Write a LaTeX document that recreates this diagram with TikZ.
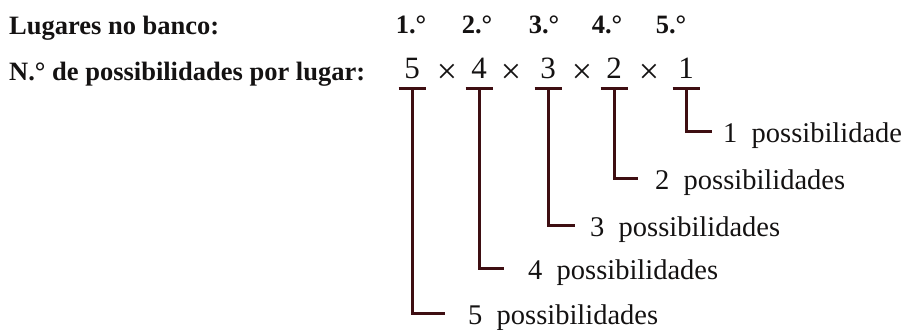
\documentclass[tikz,border=0pt]{standalone}
\usepackage{fontspec}
\setmainfont{Liberation Serif}
\usepackage{xcolor}
\usepackage{tikz}
\usetikzlibrary{positioning, calc}
\definecolor{BancoBar}{RGB}{62, 14, 18}
\definecolor{BancoInk}{RGB}{20, 18, 18}

\tikzset{
  headtext/.style={anchor=base west, inner sep=0pt, text=BancoInk, font=\fontsize{26.5}{30}\selectfont\bfseries},
  placetext/.style={anchor=base, inner sep=0pt, text=BancoInk, font=\fontsize{26.5}{30}\selectfont\bfseries},
  factor/.style={anchor=base, inner sep=0pt, text=BancoInk, font=\fontsize{31}{36}\selectfont},
  vezestext/.style={anchor=base, inner sep=0pt, text=BancoInk, font=\fontsize{36}{40}\selectfont},
  counttext/.style={anchor=base west, inner sep=0pt, text=BancoInk, font=\fontsize{28.5}{34}\selectfont},
  bar/.style={BancoBar, line width=3pt},
}

\begin{document}
\begin{tikzpicture}[x=1pt,y=1pt]
  \path[use as bounding box] (0,0) rectangle (904,-329);
  \node[headtext] (lugares) at (9,-35) {Lugares no banco:};
  \node[headtext] (npos) at (9,-80) {N.\textdegree{} de possibilidades por lugar:};
  % lugares 1.o ... 5.o
  \foreach \x/\k in {411/1,477/2,544/3,607/4,671/5}{
    \node[placetext] (lugar\k) at (\x,-34) {\k.\textdegree};
  }
  % fatores do produto
  \foreach \x/\k in {412/5,479/4,548/3,614/2,686/1}{
    \node[factor] (f\k) at (\x,-78) {\k};
  }
  \foreach \x/\i in {447/a,511/b,582/c,649/d}{
    \node[vezestext] (vezes\i) at (\x,-83) {×};
  }
  % legendas
  \foreach \x/\y/\k/\w in {723/142/1/possibilidade,655/189/2/possibilidades,590/236/3/possibilidades,528/279/4/possibilidades,468/324/5/possibilidades}{
    \node[counttext] (c\k) at (\x,-\y) {\k\hspace{0.5em}\w};
  }
  % chavetas
  \foreach \k/\g in {1/11,2/17,3/15,4/24,5/23}{
    \draw[bar] ([xshift=-13.5pt,yshift=-10pt]f\k.base) -- ([xshift=13.5pt,yshift=-10pt]f\k.base);
    \draw[bar] ([yshift=-10pt]f\k.base) |- ([xshift=-\g pt,yshift=11pt]c\k.base west);
  }
\end{tikzpicture}
\end{document}
